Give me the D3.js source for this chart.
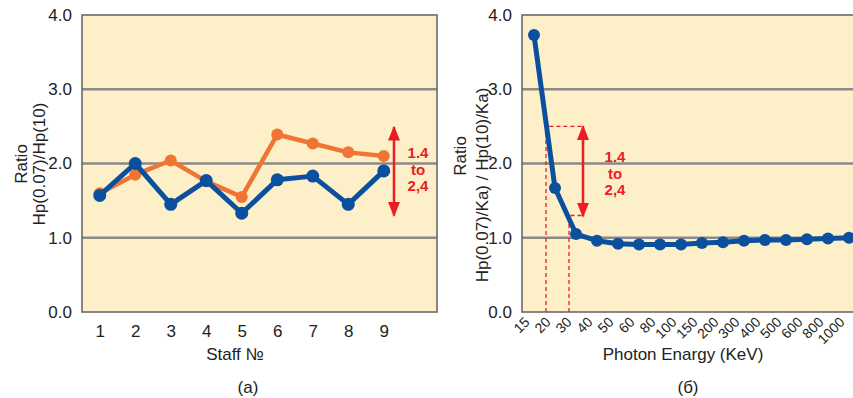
<!DOCTYPE html>
<html lang="en">
<head>
<meta charset="UTF-8">
<title>Hp ratio charts</title>
<script src="https://d3js.org/d3.v7.min.js"></script>
<style>
  body { margin: 0; background: #fff; }
  svg { display: block; font-family: "Liberation Sans Narrow", "Arial Narrow", "Liberation Sans", sans-serif; }
</style>
</head>
<body>
<script>
// Data — panel (a)
const staff = [1, 2, 3, 4, 5, 6, 7, 8, 9];
const blueA = [1.57, 2.0, 1.45, 1.77, 1.33, 1.78, 1.83, 1.45, 1.9];
const orangeA = [1.6, 1.85, 2.04, 1.76, 1.55, 2.39, 2.27, 2.15, 2.1];

// Data — panel (б)
const energies = ["15", "20", "30", "40", "50", "60", "80", "100", "150", "200", "300", "400", "500", "600", "800", "1000"];
const blueB = [3.73, 1.67, 1.05, 0.96, 0.92, 0.91, 0.91, 0.91, 0.93, 0.94, 0.96, 0.97, 0.97, 0.98, 0.99, 1.0];

const yTicks = [0, 1, 2, 3, 4];
const gridVals = [1, 2, 3];

const width = 853, height = 398;
const blue = "#0b4f9f", orange = "#f07535", red = "#ec1c24", bg = "#fdefc8", grid = "#8a8a8a";

const svg = d3.select("body").append("svg")
    .attr("width", width)
    .attr("height", height);

// arrowhead for the range notes
svg.append("defs").append("marker")
    .attr("id", "ah")
    .attr("viewBox", "0 0 10 10")
    .attr("refX", 9).attr("refY", 5)
    .attr("markerWidth", 15).attr("markerHeight", 15)
    .attr("markerUnits", "userSpaceOnUse")
    .attr("orient", "auto-start-reverse")
    .append("path")
    .attr("d", "M0,1 L10,5 L0,9 Z")
    .attr("fill", red);

const y = d3.scaleLinear().domain([0, 4]).range([312, 15]);

function yAxis(g, x0) {
    g.attr("transform", `translate(${x0 - 8},0)`)
        .call(d3.axisLeft(y).tickValues(yTicks).tickFormat(d3.format(".1f")).tickSize(0).tickPadding(2))
        .call(s => s.select(".domain").remove())
        .selectAll("text")
        .attr("font-size", 17)
        .attr("fill", "#222")
        .attr("font-family", "inherit");
}

function ratioLabel(g, lines) {
    lines.forEach(l => {
        g.append("text")
            .attr("transform", `translate(${l.x},${l.y}) rotate(-90)`)
            .attr("text-anchor", "middle")
            .attr("font-size", 17)
            .attr("fill", "#222")
            .text(l.t);
    });
}

function rangeNote(g, x, yTop, yBot, tx, ty) {
    g.append("line")
        .attr("x1", x).attr("x2", x)
        .attr("y1", y(yBot)).attr("y2", y(yTop))
        .attr("stroke", red).attr("stroke-width", 2.5)
        .attr("marker-start", "url(#ah)")
        .attr("marker-end", "url(#ah)");
    ["1.4", "to", "2,4"].forEach((t, i) => {
        g.append("text")
            .attr("x", tx).attr("y", ty + i * 16.5)
            .attr("text-anchor", "middle")
            .attr("font-size", 15)
            .attr("font-weight", "bold")
            .attr("fill", red)
            .text(t);
    });
}

// ---------- Panel (a) ----------
const a = svg.append("g");
const xa = d3.scaleLinear().domain([0.5, 10.5]).range([82, 437]);

a.append("rect")
    .attr("x", xa(0.5)).attr("y", y(4))
    .attr("width", xa(10.5) - xa(0.5)).attr("height", y(0) - y(4))
    .attr("fill", bg);

a.selectAll(".grid").data(gridVals).join("line")
    .attr("x1", xa(0.5)).attr("x2", xa(10.5))
    .attr("y1", d => y(d)).attr("y2", d => y(d))
    .attr("stroke", grid).attr("stroke-width", 2.5);

a.append("rect")
    .attr("x", xa(0.5)).attr("y", y(4))
    .attr("width", xa(10.5) - xa(0.5)).attr("height", y(0) - y(4))
    .attr("fill", "none").attr("stroke", "#6d6a66").attr("stroke-width", 1.6);

a.append("g").call(yAxis, xa(0.5));

a.append("g")
    .attr("transform", `translate(0,${y(0)})`)
    .call(d3.axisBottom(xa).tickValues(staff).tickFormat(d3.format("d")).tickSize(0).tickPadding(13))
    .call(s => s.select(".domain").remove())
    .selectAll("text")
    .attr("font-size", 17).attr("fill", "#222").attr("font-family", "inherit");

const lineA = d3.line().x((d, i) => xa(staff[i])).y(d => y(d));

a.append("path").datum(orangeA)
    .attr("d", lineA).attr("fill", "none")
    .attr("stroke", orange).attr("stroke-width", 4.5).attr("stroke-linejoin", "round");
a.selectAll(".po").data(orangeA).join("circle")
    .attr("cx", (d, i) => xa(staff[i])).attr("cy", d => y(d))
    .attr("r", 6).attr("fill", orange);

a.append("path").datum(blueA)
    .attr("d", lineA).attr("fill", "none")
    .attr("stroke", blue).attr("stroke-width", 5).attr("stroke-linejoin", "round");
a.selectAll(".pb").data(blueA).join("circle")
    .attr("cx", (d, i) => xa(staff[i])).attr("cy", d => y(d))
    .attr("r", 6.5).attr("fill", blue);

rangeNote(a, 394, 2.49, 1.3, 418, 158);

ratioLabel(a, [{x: 27, y: 164, t: "Ratio"}, {x: 45, y: 164, t: "Hp(0.07)/Hp(10)"}]);

a.append("text").attr("x", 235).attr("y", 360).attr("text-anchor", "middle")
    .attr("font-size", 17).attr("fill", "#222").text("Staff №");
a.append("text").attr("x", 248).attr("y", 393).attr("text-anchor", "middle")
    .attr("font-size", 17).attr("fill", "#222").text("(a)");

// ---------- Panel (б) ----------
const b = svg.append("g");
const left = 522, right = 870;
const xb = d3.scalePoint().domain(energies).range([534, 849]);

b.append("rect")
    .attr("x", left).attr("y", y(4))
    .attr("width", right - left).attr("height", y(0) - y(4))
    .attr("fill", bg);

b.selectAll(".grid").data(gridVals).join("line")
    .attr("x1", left).attr("x2", right)
    .attr("y1", d => y(d)).attr("y2", d => y(d))
    .attr("stroke", grid).attr("stroke-width", 2.5);

b.append("rect")
    .attr("x", left).attr("y", y(4))
    .attr("width", right - left).attr("height", y(0) - y(4))
    .attr("fill", "none").attr("stroke", "#6d6a66").attr("stroke-width", 1.6);

b.append("g").call(yAxis, left);

// dashed guides
const dash = [
    [[xb("20") - 9, y(0)], [xb("20") - 9, y(2.5)], [583, y(2.5)]],
    [[xb("30") - 7, y(0)], [xb("30") - 7, y(1.3)], [583, y(1.3)]]
];
b.selectAll(".dash").data(dash).join("path")
    .attr("d", d3.line())
    .attr("fill", "none").attr("stroke", red)
    .attr("stroke-width", 1.3).attr("stroke-dasharray", "4,3");

b.append("g")
    .attr("transform", `translate(0,${y(0)})`)
    .call(d3.axisBottom(xb).tickSize(0).tickPadding(0))
    .call(s => s.select(".domain").remove())
    .selectAll("text")
    .attr("font-size", 14).attr("fill", "#222").attr("font-family", "inherit")
    .attr("text-anchor", "end")
    .attr("dy", 0)
    .attr("transform", "translate(-4,11) rotate(-45)");

const lineB = d3.line().x((d, i) => xb(energies[i])).y(d => y(d));
b.append("path").datum(blueB)
    .attr("d", lineB).attr("fill", "none")
    .attr("stroke", blue).attr("stroke-width", 5).attr("stroke-linejoin", "round");
b.selectAll(".pb").data(blueB).join("circle")
    .attr("cx", (d, i) => xb(energies[i])).attr("cy", d => y(d))
    .attr("r", 6).attr("fill", blue);

rangeNote(b, 583, 2.5, 1.29, 615, 162);

ratioLabel(b, [{x: 466, y: 156, t: "Ratio"}, {x: 488, y: 185, t: "Hp(0.07)/Ka) / Hp(10)/Ka)"}]);

b.append("text").attr("x", 683).attr("y", 360).attr("text-anchor", "middle")
    .attr("font-size", 17).attr("fill", "#222").text("Photon Enargy (KeV)");
b.append("text").attr("x", 688).attr("y", 393).attr("text-anchor", "middle")
    .attr("font-size", 17).attr("fill", "#222").text("(б)");
</script>
</body>
</html>
